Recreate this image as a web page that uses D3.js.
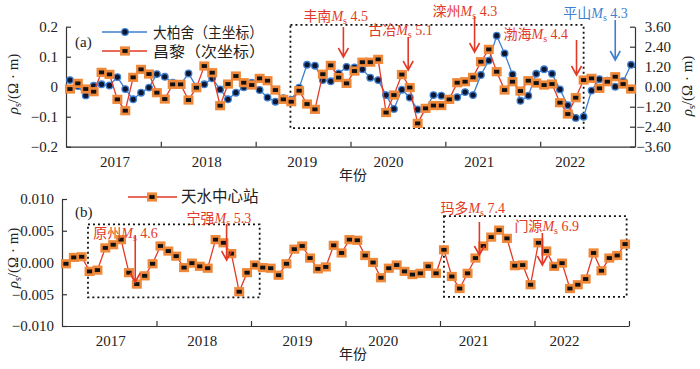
<!DOCTYPE html>
<html>
<head>
<meta charset="utf-8">
<script src="https://cdn.jsdelivr.net/npm/d3@7/dist/d3.min.js"></script>
<style>
body{margin:0;background:#fff;}
svg text{font-family:"Liberation Serif","Noto Sans CJK SC",serif;fill:#222;}
.axis path,.axis line{stroke:#333;stroke-width:1.2;}
</style>
</head>
<body>
<div id="chart"></div>
<script>
// month index 0 = 2017-01, 71 = 2022-12
var years = ["2017","2018","2019","2020","2021","2022"];
var yearLabelMonth = [6.2, 17.8, 29.9, 40.8, 52.3, 63.8];

// 大柏舍 (left axis, Ω·m)
var dabaishe = [0.022,0.002,-0.029,0.003,0.008,0.004,0.032,-0.008,-0.042,-0.02,-0.003,0.042,
  0.033,0.013,0.008,0.044,0.0,0.008,0.028,-0.009,-0.042,-0.02,-0.002,0.013,
  -0.011,-0.036,-0.05,-0.038,-0.044,-0.003,0.073,0.07,0.022,0.018,0.044,0.066,
  0.064,0.058,0.03,0.022,-0.028,-0.074,-0.01,-0.036,-0.076,-0.074,-0.028,-0.03,
  -0.04,-0.035,-0.018,-0.028,0.039,0.087,0.17,0.111,0.041,-0.047,-0.03,0.043,
  0.058,0.043,-0.009,-0.062,-0.104,-0.1,-0.013,0.025,0.02,0.0,0.018,0.073];

// 昌黎 (right axis)
var changli = [-0.14,0.2,-0.14,-0.3,0.86,0.74,-0.76,-1.44,0.56,1.04,0.76,-0.36,
  -0.74,0.14,0.14,-0.8,-0.06,1.24,0.84,-1.14,0.16,0.64,0.24,0.1,
  0.5,0.36,-0.2,-0.76,-0.9,-0.24,-1.04,-1.36,0.75,1.28,0.55,0.2,
  0.94,1.47,1.47,1.64,-1.55,-0.5,0.73,-0.05,-2.2,-1.3,-1.13,-1.13,
  -0.76,0.24,0.3,0.56,1.5,2.24,0.9,-0.2,0.3,-0.26,0.36,0.22,
  0.1,0.16,-0.96,-1.64,-0.66,0.4,0.5,-0.1,0.3,0.6,0.16,-0.14];

// 天水中心站
var tianshui = [-0.0002,0.0008,0.0009,-0.0014,-0.0012,0.0023,0.0028,0.0036,-0.0016,-0.0034,-0.0021,-0.0002,
  0.0026,0.0018,0.001,-0.0008,-0.0001,-0.0006,-0.0009,0.0036,0.0031,0.0014,-0.0046,-0.0016,
  -0.0004,-0.0008,-0.0009,-0.002,-0.0002,0.0021,0.0026,0.0007,-0.001,-0.0007,0.0027,0.0015,
  0.0036,0.0035,0.0011,0.0,-0.0024,-0.0009,-0.0004,-0.0014,-0.0019,-0.0017,-0.0006,-0.0017,
  0.002,-0.0022,-0.0041,-0.0017,0.0007,0.0026,0.004,0.0051,0.0038,-0.0005,-0.0004,-0.0035,
  0.0031,0.0018,-0.0006,-0.0001,-0.0041,-0.0035,-0.0026,0.0015,-0.0013,0.0007,0.0011,0.0029];

var yTicksA = [-0.2,-0.1,0,0.1,0.2];
var yTicksA2 = [-3.6,-2.4,-1.2,0,1.2,2.4,3.6];
var yTicksB = [-0.01,-0.005,0,0.005,0.01];

var legendA = ["大柏舍（主坐标）","昌黎（次坐标）"];
var legendB = ["天水中心站"];

// earthquakes: name, magnitude, month index
var quakesA = [["丰南","4.5",35.1],["古冶","5.1",43.3],["滦州","4.3",51.7],["渤海","4.4",64.6],["平山","4.3",69.5]];
var quakesB = [["原州","4.6",9.3],["宁强","5.3",20.9],["玛多","7.4",53],["门源","6.9",61]];

// anomaly boxes [month0, month1, v0, v1]
var boxA = [[28.4,65.5,-0.138,0.206]];
var boxB = [[3.3,25.1,-0.0055,0.006],[48.5,71.7,-0.0054,0.0073]];

var w = 700, h = 369;
var svg = d3.select("#chart").append("svg").attr("width", w).attr("height", h);

var blue = "#3f7fcf", red = "#e23a26", orange = "#f0883a";
var minus = function(s){ return s.replace("-", "\u2212"); };

//---------- panel (a)
var xA = d3.scaleLinear().domain([0,72]).range([66,635]);
var yA = d3.scaleLinear().domain([-0.2,0.2]).range([146.7,26.7]);
var yA2 = d3.scaleLinear().domain([-3.6,3.6]).range([146.7,26.7]);

//---------- panel (b)
var xB = d3.scaleLinear().domain([0,72]).range([62,629]);
var yB = d3.scaleLinear().domain([-0.01,0.01]).range([326,199]);

function drawAxes(x, y, yTicks, fmt, bottomTicks){
  svg.append("g").attr("class","axis")
    .attr("transform","translate(" + x.range()[0] + ",0)")
    .call(d3.axisLeft(y).tickValues(yTicks).tickSizeInner(-5).tickSizeOuter(0).tickPadding(8).tickFormat(fmt));
  svg.append("g").attr("class","axis")
    .attr("transform","translate(0," + y.range()[0] + ")")
    .call(d3.axisBottom(x).tickValues(bottomTicks).tickSizeInner(-5).tickSizeOuter(0).tickFormat(""));
  svg.selectAll(".axis text").style("font-size","15px").attr("fill","#222");

  // year labels
  svg.append("g").selectAll("text")
    .data(years).enter().append("text")
    .attr("x", function(d,i){ return x(yearLabelMonth[i]); })
    .attr("y", y.range()[0] + 20)
    .attr("text-anchor","middle")
    .style("font-size","15px")
    .text(function(d){ return d; });

  svg.append("text")
    .attr("x", 353).attr("y", y.range()[0] + 33)
    .attr("text-anchor","middle")
    .style("font-size","14px")
    .style("font-family","Noto Sans CJK SC")
    .text("年份");
}

function yLabel(cx, cy){
  var t = svg.append("text")
    .attr("transform","translate(" + cx + "," + cy + ") rotate(-90)")
    .attr("text-anchor","middle")
    .style("font-size","15px");
  t.append("tspan").style("font-style","italic").text("ρ");
  t.append("tspan").attr("dy",3).style("font-size","10px").text("s");
  t.append("tspan").attr("dy",-3).text("/(Ω · m)");
}

function drawBoxes(boxes, x, y){
  svg.append("g").selectAll("rect")
    .data(boxes).enter().append("rect")
    .attr("x", function(d){ return x(d[0]); })
    .attr("y", function(d){ return y(d[3]); })
    .attr("width", function(d){ return x(d[1]) - x(d[0]); })
    .attr("height", function(d){ return y(d[2]) - y(d[3]); })
    .attr("fill","none")
    .attr("stroke","#111")
    .attr("stroke-width",1.8)
    .attr("stroke-dasharray","2,3");
}

function drawBlue(values, x, y){
  var line = d3.line().x(function(d,i){ return x(i + 0.5); }).y(function(d){ return y(d); });
  svg.append("path").datum(values).attr("d", line)
    .attr("fill","none").attr("stroke", blue).attr("stroke-width",1.3);
  svg.append("g").selectAll("circle")
    .data(values).enter().append("circle")
    .attr("cx", function(d,i){ return x(i + 0.5); })
    .attr("cy", function(d){ return y(d); })
    .attr("r", 3.3)
    .attr("fill","#0b1633")
    .attr("stroke", blue)
    .attr("stroke-width",1.3);
}

function square(g, cx, cy){
  g.append("rect").attr("x", cx - 5).attr("y", cy - 4.6).attr("width",10).attr("height",9.2)
    .attr("fill", orange);
  g.append("rect").attr("x", cx - 2.6).attr("y", cy - 1.9).attr("width",5.2).attr("height",3.8)
    .attr("fill","#111");
}

function drawOrange(values, x, y){
  var line = d3.line().x(function(d,i){ return x(i + 0.5); }).y(function(d){ return y(d); });
  svg.append("path").datum(values).attr("d", line)
    .attr("fill","none").attr("stroke", red).attr("stroke-width",1.3);
  var g = svg.append("g");
  values.forEach(function(d,i){ square(g, x(i + 0.5), y(d)); });
}

function quake(q, ax, y1, y2, tx, ty, color){
  svg.append("path")
    .attr("d","M" + ax + "," + y1 + "L" + ax + "," + y2 + "M" + (ax - 5) + "," + (y2 - 9) + "L" + ax + "," + y2 + "L" + (ax + 5) + "," + (y2 - 9))
    .attr("fill","none").attr("stroke", color).attr("stroke-width",1.6);
  var t = svg.append("text").attr("x", tx).attr("y", ty).style("font-size","14px");
  t.append("tspan").attr("fill", color).style("font-family","Noto Sans CJK SC").text(q[0]);
  t.append("tspan").attr("fill", color).style("font-style","italic").text("M");
  t.append("tspan").attr("fill", color).attr("dy",3).style("font-size","10px").text("s");
  t.append("tspan").attr("fill", color).attr("dy",-3).text(" " + q[1]);
}

// ---- draw panel (a)
drawAxes(xA, yA, yTicksA, function(d){ return d === 0 ? "0" : minus(d3.format(".1f")(d)); }, [12,24,36,48,60]);
var gr = svg.append("g").attr("class","axis")
  .attr("transform","translate(635,0)")
  .call(d3.axisRight(yA2).tickValues(yTicksA2).tickSizeInner(-5).tickSizeOuter(0).tickFormat(function(d){ return minus(d3.format(".2f")(d)); }));
gr.selectAll("text").attr("text-anchor","end").attr("x",36).style("font-size","15px").attr("fill","#222");

yLabel(18, 84);
yLabel(692, 86);

drawBoxes(boxA, xA, yA);
drawBlue(dabaishe, xA, yA);
drawOrange(changli, xA, yA2);

svg.append("text").attr("x",75).attr("y",47).style("font-size","15px").text("(a)");

// legend (a)
svg.append("line").attr("x1",102).attr("x2",147).attr("y1",32).attr("y2",32).attr("stroke",blue).attr("stroke-width",1.3);
svg.append("circle").attr("cx",125).attr("cy",32).attr("r",3.3).attr("fill","#0b1633").attr("stroke",blue).attr("stroke-width",1.3);
svg.append("line").attr("x1",102).attr("x2",147).attr("y1",51).attr("y2",51).attr("stroke",red).attr("stroke-width",1.3);
square(svg.append("g"), 125, 51);
svg.selectAll(".legA").data(legendA).enter().append("text")
  .attr("x",153).attr("y",function(d,i){ return 37.5 + i * 19; })
  .attr("textLength",function(d,i){ return i === 0 ? 110 : 112; })
  .attr("lengthAdjust","spacingAndGlyphs")
  .style("font-size","15px").style("font-family","Noto Sans CJK SC").attr("fill","#333")
  .text(function(d){ return d; });

var layA = [[27,57,-40,21],[37,70,-40,35],[17,52,-42,16],[40,75,-73,39],[20,60,-52,18]];
quakesA.forEach(function(q,i){
  var ax = xA(q[2]), L = layA[i];
  quake(q, ax, L[0], L[1], ax + L[2], L[3], i === 4 ? blue : red);
});

// ---- draw panel (b)
drawAxes(xB, yB, yTicksB, function(d){ return minus(d3.format(".3f")(d)); }, [12,24,36,48,60,72]);
yLabel(18, 258);
drawBoxes(boxB, xB, yB);
drawOrange(tianshui, xB, yB);

svg.append("text").attr("x",75).attr("y",217).style("font-size","15px").text("(b)");
svg.append("line").attr("x1",128).attr("x2",177).attr("y1",197).attr("y2",197).attr("stroke",red).attr("stroke-width",1.3);
square(svg.append("g"), 152, 197);
svg.selectAll(".legB").data(legendB).enter().append("text")
  .attr("x",181).attr("y",202)
  .style("font-size","15.5px").style("font-family","Noto Sans CJK SC").attr("fill","#333")
  .text(function(d){ return d; });

var layB = [[235,282,-42,238],[224,260,-40,222.5],[222,255,-39,213],[233,265,-28,231]];
quakesB.forEach(function(q,i){
  var ax = xB(q[2]), L = layB[i];
  quake(q, ax, L[0], L[1], ax + L[2], L[3], red);
});
</script>
</body>
</html>
